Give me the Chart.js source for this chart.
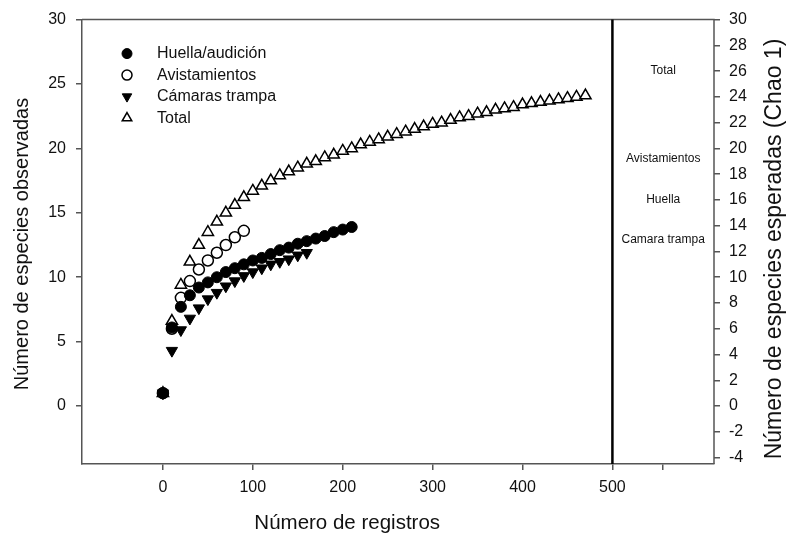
<!DOCTYPE html>
<html>
<head>
<meta charset="utf-8">
<script src="https://cdn.jsdelivr.net/npm/chart.js@4.4.1/dist/chart.umd.min.js"></script>
<style>
  html, body { margin: 0; padding: 0; background: #fff; }
  #wrap { width: 790px; height: 537px; }
</style>
</head>
<body>
<div id="wrap"><canvas id="curvas" width="790" height="537"></canvas></div>
<script>
// Numero de registros (x), sampled every 10 records
const registros = [0, 10, 20, 30, 40, 50, 60, 70, 80, 90, 100, 110, 120, 130, 140, 150, 160, 170, 180, 190,
    200, 210, 220, 230, 240, 250, 260, 270, 280, 290, 300, 310, 320, 330, 340, 350, 360, 370, 380, 390,
    400, 410, 420, 430, 440, 450, 460, 470];

// Especies observadas por metodo
const huellaY = [1, 6.1, 7.7, 8.6, 9.2, 9.6, 10.0, 10.4, 10.7, 11.0, 11.3, 11.5, 11.8, 12.1, 12.3, 12.6,
    12.8, 13.0, 13.2, 13.5, 13.7, 13.9];
const avistY = [1, 6.0, 8.4, 9.7, 10.6, 11.3, 11.9, 12.5, 13.1, 13.6];
const camarasY = [1, 4.3, 5.9, 6.8, 7.6, 8.3, 8.8, 9.3, 9.7, 10.1, 10.4, 10.7, 11.0, 11.2, 11.4, 11.7, 11.9];
const totalY = [1, 6.6, 9.4, 11.2, 12.5, 13.5, 14.3, 15.0, 15.6, 16.2, 16.7, 17.1, 17.5, 17.9, 18.2, 18.5,
    18.8, 19.0, 19.3, 19.5, 19.8, 20.0, 20.3, 20.5, 20.7, 20.9, 21.1, 21.3, 21.5, 21.7, 21.9, 22.0,
    22.2, 22.4, 22.5, 22.7, 22.8, 23.0, 23.1, 23.2, 23.4, 23.5, 23.6, 23.7, 23.8, 23.9, 24.0, 24.1];

const seriesNames = ['Huella/audición', 'Avistamientos', 'Cámaras trampa', 'Total'];

// Especies esperadas (Chao 1), shown as labels in the right panel
const chaoLabels = ['Total', 'Avistamientos', 'Huella', 'Camara trampa'];
const chaoValues = [26, 19.2, 16, 12.9];

// Axis ticks
const xTicks = [0, 100, 200, 300, 400, 500];
const yLeftTicks = [0, 5, 10, 15, 20, 25, 30];
const yRightTicks = [-4, -2, 0, 2, 4, 6, 8, 10, 12, 14, 16, 18, 20, 22, 24, 26, 28, 30];

const X_MIN = -90, X_MAX = 613, PANEL_SPLIT = 500;
const Y_MIN = -4.5, Y_MAX = 30;

const FONT = "'Liberation Sans', Arial, sans-serif";
const AXIS_COLOR = '#555';

function toPoints(ys) {
    return ys.map((y, i) => ({ x: registros[i], y: y }));
}

const datasets = [
    {
        label: seriesNames[0], data: toPoints(huellaY),
        pointStyle: 'circle', pointRadius: 5.5, pointRotation: 0,
        backgroundColor: '#000', borderColor: '#000', pointBorderWidth: 1
    },
    {
        label: seriesNames[1], data: toPoints(avistY),
        pointStyle: 'circle', pointRadius: 5.5, pointRotation: 0,
        backgroundColor: '#fff', borderColor: '#000', pointBorderWidth: 1.5
    },
    {
        label: seriesNames[2], data: toPoints(camarasY),
        pointStyle: 'triangle', pointRadius: 6.5, pointRotation: 180,
        backgroundColor: '#000', borderColor: '#000', pointBorderWidth: 1
    },
    {
        label: seriesNames[3], data: toPoints(totalY),
        pointStyle: 'triangle', pointRadius: 6.5, pointRotation: 0,
        backgroundColor: '#fff', borderColor: '#000', pointBorderWidth: 1.5
    }
];

// Frame, panel divider, Chao 1 labels, legend and axis titles
const decorations = {
    id: 'decorations',
    afterDraw(chart) {
        const { ctx, chartArea: a, scales } = chart;
        const xs = scales.x, yr = scales.y2;
        ctx.save();

        // top + right edges of the box
        ctx.strokeStyle = AXIS_COLOR;
        ctx.lineWidth = 1.5;
        ctx.beginPath();
        ctx.moveTo(a.left, a.top);
        ctx.lineTo(a.right, a.top);
        ctx.lineTo(a.right, a.bottom);
        ctx.stroke();

        // divider between the two panels
        const xs500 = xs.getPixelForValue(PANEL_SPLIT);
        ctx.strokeStyle = '#000';
        ctx.lineWidth = 2.5;
        ctx.beginPath();
        ctx.moveTo(xs500, a.top);
        ctx.lineTo(xs500, a.bottom);
        ctx.stroke();

        // Chao 1 labels
        const cx = (xs500 + a.right) / 2;
        ctx.fillStyle = '#111';
        ctx.font = '12px ' + FONT;
        ctx.textAlign = 'center';
        ctx.textBaseline = 'middle';
        chaoLabels.forEach((t, i) => {
            ctx.fillText(t, cx, yr.getPixelForValue(chaoValues[i]));
        });

        // legend
        const mx = a.left + 45, tx = a.left + 75;
        ctx.font = '16px ' + FONT;
        ctx.textAlign = 'left';
        chart.data.datasets.forEach((ds, i) => {
            const y = a.top + 34 + i * 21.5;
            ctx.fillStyle = ds.backgroundColor;
            ctx.strokeStyle = ds.borderColor;
            ctx.lineWidth = ds.pointBorderWidth;
            Chart.helpers.drawPoint(ctx, {
                pointStyle: ds.pointStyle,
                rotation: ds.pointRotation,
                radius: ds.pointStyle === 'circle' ? 5 : 5.5,
                borderWidth: ds.pointBorderWidth
            }, mx, y);
            ctx.fillStyle = '#111';
            ctx.fillText(ds.label, tx, y);
        });

        // axis titles
        ctx.fillStyle = '#111';
        ctx.textAlign = 'center';
        ctx.font = '20.5px ' + FONT;
        ctx.fillText('Número de registros', (a.left + xs500) / 2, 523);

        ctx.save();
        ctx.font = '20px ' + FONT;
        ctx.translate(22, 244);
        ctx.rotate(-Math.PI / 2);
        ctx.fillText('Número de especies observadas', 0, 0);
        ctx.restore();

        ctx.save();
        ctx.font = '23px ' + FONT;
        ctx.translate(775, 249);
        ctx.rotate(-Math.PI / 2);
        ctx.fillText('Número de especies esperadas (Chao 1)', 0, 0);
        ctx.restore();

        ctx.restore();
    }
};

function axisGrid() {
    return { display: true, drawOnChartArea: false, drawTicks: true, tickLength: 6, color: AXIS_COLOR, lineWidth: 1.5 };
}

new Chart(document.getElementById('curvas'), {
    type: 'scatter',
    data: { datasets: datasets },
    options: {
        responsive: false,
        animation: false,
        layout: { padding: { top: 18, left: 0, right: 0, bottom: 0 } },
        plugins: {
            legend: { display: false },
            tooltip: { enabled: false }
        },
        scales: {
            x: {
                type: 'linear', position: 'bottom', min: X_MIN, max: X_MAX,
                grid: axisGrid(),
                border: { display: true, color: AXIS_COLOR, width: 1.5 },
                afterBuildTicks: s => {
                    const ticks = xTicks.map(v => ({ value: v }));
                    ticks.push({ value: (PANEL_SPLIT + X_MAX) / 2 }); // tick of the right panel
                    s.ticks = ticks;
                },
                ticks: {
                    color: '#111', font: { family: FONT, size: 16 }, padding: 8, maxRotation: 0,
                    callback: v => xTicks.includes(v) ? String(v) : ''
                },
                afterFit: s => { s.height = 73; }
            },
            y: {
                type: 'linear', position: 'left', min: Y_MIN, max: Y_MAX,
                grid: axisGrid(),
                border: { display: true, color: AXIS_COLOR, width: 1.5 },
                afterBuildTicks: s => { s.ticks = yLeftTicks.map(v => ({ value: v })); },
                ticks: { color: '#111', font: { family: FONT, size: 16 }, padding: 10 },
                afterFit: s => { s.width = 82; }
            },
            y2: {
                type: 'linear', position: 'right', min: Y_MIN, max: Y_MAX,
                grid: axisGrid(),
                border: { display: false },
                afterBuildTicks: s => { s.ticks = yRightTicks.map(v => ({ value: v })); },
                ticks: { color: '#111', font: { family: FONT, size: 16 }, padding: 9 },
                afterFit: s => { s.width = 76; }
            }
        }
    },
    plugins: [decorations]
});
</script>
</body>
</html>
